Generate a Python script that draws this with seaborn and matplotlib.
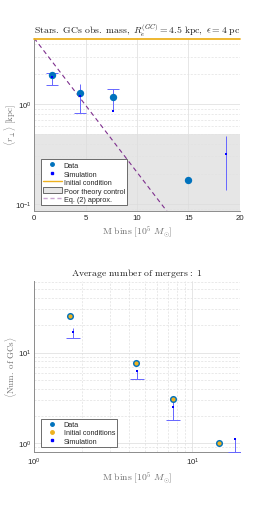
import numpy as np
import pandas as pd
import matplotlib
matplotlib.use("Agg")
import matplotlib.pyplot as plt
import seaborn as sns
from matplotlib.lines import Line2D
from matplotlib.patches import Patch
from matplotlib.ticker import LogLocator, NullFormatter, FixedLocator

# ---------------- data: top panel ----------------
top_data_x = [1.72, 4.47, 7.64, 14.98]
top_data_y = [1.94, 1.29, 1.17, 0.175]
top_sim_x = [1.78, 4.47, 7.64, 18.67]
top_sim_y = [1.87, 1.21, 0.86, 0.318]
top_sim_lo = [1.56, 0.82, 0.86, 0.14]
top_sim_hi = [2.07, 1.60, 1.42, 0.48]
init_radius = 4.5
poor_control_max = 0.5
eq2_x = [0.0, 12.9]
eq2_y = [4.6, 0.085]
top_xticks = [0, 5, 10, 15, 20]

# ---------------- data: bottom panel ----------------
bot_data_x = [1.69, 4.41, 7.53, 14.8]
bot_data_y = [25.0, 7.6, 3.1, 1.0]
bot_init_y = [25.0, 7.6, 3.1, 1.0]
bot_sim_x = [1.76, 4.45, 7.53, 18.7]
bot_sim_y = [16.7, 6.2, 2.53, 1.1]
bot_sim_lo = [14.5, 5.14, 1.79, 0.8]
bot_sim_hi = [18.7, 6.2, 3.1, 1.1]

C_DATA = "#0072BD"
C_INIT = "#EDB120"
C_SIM = "#0000FF"
C_ERR = "#6666FF"
C_EQ = "#7E2F8E"
C_GRAY = "#e6e6e6"

sns.set_theme(style="white")
plt.rcParams["font.family"] = ["Liberation Sans", "DejaVu Sans"]
plt.rcParams["mathtext.fontset"] = "custom"
plt.rcParams["mathtext.rm"] = "Liberation Sans"
plt.rcParams["mathtext.it"] = "Liberation Sans:italic"
plt.rcParams["mathtext.bf"] = "Liberation Sans:bold"

fig = plt.figure(figsize=(2.66, 5.10), dpi=100)
ax1 = fig.add_axes([0.128, 0.584, 0.774, 0.3395])
ax2 = fig.add_axes([0.128, 0.1108, 0.774, 0.3368])

TICK_FS = 5.6
LAB_FS = 7.0
YLAB_FS = 6.4
LEG_FS = 5.2
TITLE_FS = 7.0
YLAB_X = -0.075


def style_axes(ax):
    for s in ["top", "right"]:
        ax.spines[s].set_visible(False)
    for s in ["left", "bottom"]:
        ax.spines[s].set_color("#8c8c8c")
        ax.spines[s].set_linewidth(0.7)
    ax.tick_params(which="both", direction="in", labelsize=TICK_FS,
                   colors="#8c8c8c", labelcolor="#262626", width=0.5)
    ax.tick_params(which="major", length=2.0, pad=2)
    ax.tick_params(which="minor", length=1.0)
    ax.set_axisbelow(True)


def draw_sim(ax, xs, ys, lo, hi, cap_lo, cap_hi, capw):
    ax.vlines(xs, lo, hi, colors=C_ERR, lw=0.7, zorder=3)
    for i in range(len(xs)):
        if cap_lo[i]:
            ax.plot([xs[i]], [lo[i]], marker="_", ms=capw, mew=0.7,
                    color=C_ERR, zorder=3)
        if cap_hi[i]:
            ax.plot([xs[i]], [hi[i]], marker="_", ms=capw, mew=0.7,
                    color=C_ERR, zorder=3)


# ================= top panel =================
ax = ax1
style_axes(ax)
ax.set_yscale("log")
ax.set_xlim(0, 20)
ax.set_ylim(0.085, 4.6)
ax.axhspan(0.01, poor_control_max, color=C_GRAY, lw=0, zorder=0.4)
ax.grid(True, which="major", axis="both", color="#dcdcdc", lw=0.5, ls="-")
ax.grid(True, which="minor", axis="y", color="#e2e2e2", lw=0.5, ls=(0, (3, 2)))
ax.axhline(init_radius, color=C_INIT, lw=1.3, zorder=4, clip_on=False)

sns.lineplot(x=eq2_x, y=eq2_y, ax=ax, color=C_EQ, lw=0.8,
             linestyle=(0, (4, 3)), zorder=2)
draw_sim(ax, top_sim_x, top_sim_y, top_sim_lo, top_sim_hi,
         [True, True, False, False], [True, False, True, False], 8.5)
sns.scatterplot(x=top_data_x, y=top_data_y, ax=ax, s=28, color=C_DATA,
                linewidth=0, zorder=5)
sns.scatterplot(x=top_sim_x, y=top_sim_y, ax=ax, s=3, marker="s",
                color=C_SIM, linewidth=0, zorder=6)

ax.xaxis.set_major_locator(FixedLocator(top_xticks))
ax.yaxis.set_major_locator(LogLocator(base=10))
ax.yaxis.set_minor_locator(LogLocator(base=10, subs=np.arange(2, 10)))
ax.yaxis.set_minor_formatter(NullFormatter())

t = ax.set_title(r"$\mathrm{Stars.\ GCs\ obs.\ mass,}\ R_e^{(GC)}=4.5\ \mathrm{kpc},\ \epsilon=4\ \mathrm{pc}$",
                 fontsize=TITLE_FS, pad=3, color="#222222")
t.set_math_fontfamily("cm")
xl = ax.set_xlabel(r"$\mathrm{M\ bins\ [10^5\ }M_{\odot}\mathrm{]}$",
                   fontsize=LAB_FS, color="#707070", labelpad=2)
xl.set_math_fontfamily("cm")
yl = ax.set_ylabel(r"$\langle r_{\perp}\rangle\ \mathrm{[kpc]}$",
                   fontsize=YLAB_FS, color="#707070")
yl.set_math_fontfamily("cm")
ax.yaxis.set_label_coords(YLAB_X, 0.5)

h1 = [
    Line2D([], [], marker="o", ls="none", color=C_DATA, markersize=2.5),
    Line2D([], [], marker="s", ls="none", color=C_SIM, markersize=1.5),
    Line2D([], [], color=C_INIT, lw=1.0),
    Patch(facecolor=C_GRAY, edgecolor="#555555", lw=0.6),
    Line2D([], [], color="#c9a6d0", lw=1.0, ls=(0, (3, 2))),
]
l1 = ["Data", "Simulation", "Initial condition", "Poor theory control", "Eq. (2) approx."]
leg = ax.legend(h1, l1, loc="lower left", bbox_to_anchor=(0.025, 0.025),
                fontsize=LEG_FS, frameon=True, fancybox=False,
                handlelength=2.6, handleheight=0.9, handletextpad=0.3,
                borderpad=0.3, labelspacing=0.15, borderaxespad=0.2)
leg.get_frame().set_edgecolor("#555555")
leg.get_frame().set_linewidth(0.6)
leg.get_frame().set_alpha(1)
leg.set_zorder(10)

# ================= bottom panel =================
ax = ax2
style_axes(ax)
ax.set_xscale("log")
ax.set_yscale("log")
ax.set_xlim(1, 20)
ax.set_ylim(0.79, 62)
ax.grid(True, which="major", axis="both", color="#dcdcdc", lw=0.5, ls="-")
ax.grid(True, which="minor", axis="both", color="#e0e0e0", lw=0.5, ls=(0, (3, 2)))

draw_sim(ax, bot_sim_x, bot_sim_y, bot_sim_lo, bot_sim_hi,
         [True, True, True, True], [False, False, False, False], 10)
sns.scatterplot(x=bot_data_x, y=bot_data_y, ax=ax, s=26, color=C_DATA,
                linewidth=0, zorder=5)
sns.scatterplot(x=bot_data_x, y=bot_init_y, ax=ax, s=9, color=C_INIT,
                linewidth=0, zorder=6)
sns.scatterplot(x=bot_sim_x, y=bot_sim_y, ax=ax, s=3, marker="s",
                color=C_SIM, linewidth=0, zorder=7)

ax.xaxis.set_major_locator(LogLocator(base=10))
ax.xaxis.set_minor_locator(LogLocator(base=10, subs=np.arange(2, 10)))
ax.xaxis.set_minor_formatter(NullFormatter())
ax.yaxis.set_major_locator(LogLocator(base=10))
ax.yaxis.set_minor_locator(LogLocator(base=10, subs=np.arange(2, 10)))
ax.yaxis.set_minor_formatter(NullFormatter())

t2 = ax.set_title(r"$\mathrm{Average\ number\ of\ mergers:\ 1}$", fontsize=TITLE_FS,
                  pad=4, color="#222222")
t2.set_math_fontfamily("cm")
xl2 = ax.set_xlabel(r"$\mathrm{M\ bins\ [10^5\ }M_{\odot}\mathrm{]}$",
                    fontsize=LAB_FS, color="#707070", labelpad=2)
xl2.set_math_fontfamily("cm")
yl2 = ax.set_ylabel(r"$\langle\mathrm{Num.\ of\ GCs}\rangle$",
                    fontsize=YLAB_FS, color="#707070")
yl2.set_math_fontfamily("cm")
ax.yaxis.set_label_coords(YLAB_X, 0.5)

h2 = [
    Line2D([], [], marker="o", ls="none", color=C_DATA, markersize=2.5),
    Line2D([], [], marker="o", ls="none", color=C_INIT, markersize=2.5),
    Line2D([], [], marker="s", ls="none", color=C_SIM, markersize=1.5),
]
l2 = ["Data", "Initial conditions", "Simulation"]
leg2 = ax.legend(h2, l2, loc="lower left", bbox_to_anchor=(0.025, 0.025),
                 fontsize=LEG_FS, frameon=True, fancybox=False,
                 handlelength=2.6, handletextpad=0.3,
                 borderpad=0.3, labelspacing=0.15, borderaxespad=0.2)
leg2.get_frame().set_edgecolor("#555555")
leg2.get_frame().set_linewidth(0.6)
leg2.get_frame().set_alpha(1)
leg2.set_zorder(10)

fig.savefig("out.png", dpi=100)
